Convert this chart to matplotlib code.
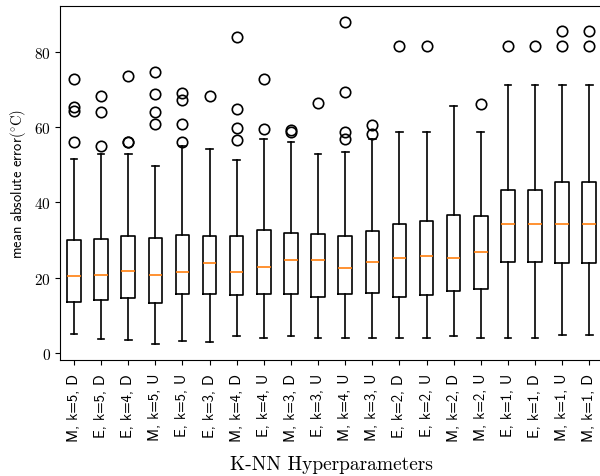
import matplotlib
matplotlib.use('Agg')
import matplotlib.pyplot as plt

plt.rcParams['mathtext.fontset'] = 'cm'
plt.rcParams['axes.formatter.use_mathtext'] = True

# configuraciones de K-NN, ordenadas por mediana del error
labels = ['M, k=5, D', 'E, k=5, D', 'E, k=4, D', 'M, k=5, U', 'E, k=5, U',
          'E, k=3, D', 'M, k=4, D', 'E, k=4, U', 'M, k=3, D', 'E, k=3, U',
          'M, k=4, U', 'M, k=3, U', 'E, k=2, D', 'E, k=2, U', 'M, k=2, D',
          'M, k=2, U', 'E, k=1, U', 'E, k=1, D', 'M, k=1, U', 'M, k=1, D']

medians = [20.5, 20.7, 21.8, 20.7, 21.4, 23.9, 21.6, 22.8, 24.8, 24.8,
           22.5, 24.3, 25.3, 25.8, 25.3, 26.9, 34.2, 34.2, 34.2, 34.2]
q1 = [13.5, 14.2, 14.5, 13.3, 15.6, 15.6, 15.4, 15.6, 15.8, 15.0,
      15.7, 15.9, 15.0, 15.4, 16.5, 17.0, 24.2, 24.2, 23.9, 23.9]
q3 = [30.1, 30.3, 31.0, 30.6, 31.3, 31.0, 31.0, 32.7, 32.0, 31.5,
      31.1, 32.5, 34.2, 35.1, 36.6, 36.5, 43.2, 43.2, 45.5, 45.5]
whislo = [5.1, 3.7, 3.5, 2.5, 3.2, 3.0, 4.6, 4.1, 4.4, 3.9,
          4.1, 3.9, 3.9, 4.1, 4.6, 4.1, 4.1, 4.1, 4.8, 4.8]
whishi = [51.5, 52.8, 52.8, 49.7, 55.0, 54.2, 51.2, 56.8, 55.9, 52.9,
          53.5, 56.8, 58.8, 58.8, 65.7, 58.8, 71.2, 71.2, 71.2, 71.2]
fliers = [
    [72.7, 65.2, 64.3, 56.1],
    [68.3, 63.9, 55.0],
    [73.6, 56.1, 56.0],
    [74.5, 68.8, 63.9, 60.8],
    [69.0, 67.3, 60.7, 56.1],
    [68.3],
    [84.0, 64.8, 59.8, 56.6],
    [72.7, 59.5],
    [59.3, 58.6],
    [66.5],
    [87.8, 69.4, 58.6, 56.8],
    [60.6, 58.1],
    [81.6],
    [81.6],
    [],
    [66.1],
    [81.6],
    [81.6],
    [85.4, 81.6],
    [85.4, 81.6],
]


def build_stats() -> list:
    """Arma la lista de estadisticas para ax.bxp."""
    stats = []
    for i in range(len(labels)):
        stats.append(dict(med=medians[i], q1=q1[i], q3=q3[i],
                          whislo=whislo[i], whishi=whishi[i],
                          fliers=fliers[i], label=labels[i]))
    return stats


fig = plt.figure(figsize=(6.0, 4.77), dpi=100)
ax = fig.add_axes([0.1007, 0.2438, 0.904, 0.741])

lw = 1.2
ax.bxp(build_stats(),
       boxprops=dict(linewidth=lw, color='black'),
       whiskerprops=dict(linewidth=lw, color='black'),
       capprops=dict(linewidth=lw, color='black'),
       medianprops=dict(linewidth=lw, color='#ff7f0e'),
       flierprops=dict(marker='o', markersize=7.5, markerfacecolor='none',
                       markeredgecolor='black', markeredgewidth=lw))

ax.set_xticklabels(labels, rotation=90, family='cmss10', fontsize=10.7)
ax.tick_params(axis='x', pad=6)
ax.set_yticks([0, 20, 40, 60, 80])
for t in ax.get_yticklabels():
    t.set_family('cmr10')
    t.set_fontsize(11)

ax.set_ylabel(r'mean absolute error$(^{\circ}\mathrm{C})$', family='cmss10', fontsize=10.5)
ax.set_xlabel('K-NN Hyperparameters', family='cmr10', fontsize=14, labelpad=10)

fig.savefig('out.png', dpi=100)
